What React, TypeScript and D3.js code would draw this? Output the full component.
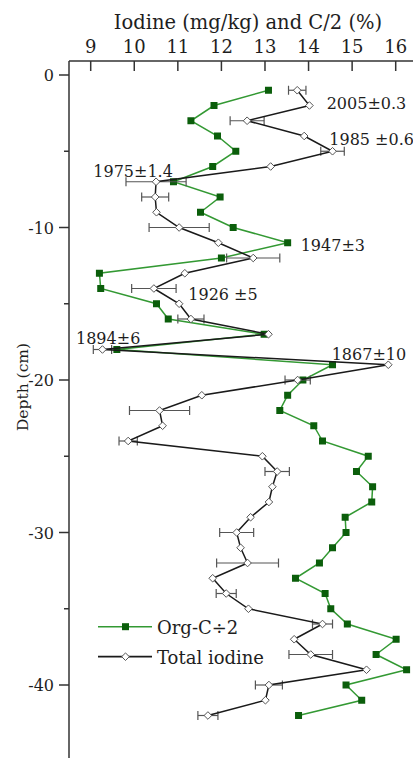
import React from "react";
import * as d3 from "d3";

const depths = d3.range(1, 43).map((d) => -d);
const orgC = [13.08, 11.83, 11.3, 11.91, 12.33, 11.8, 10.9, 11.97, 11.52, 12.27,
  13.52, 12.0, 9.2, 9.23, 10.51, 10.78, 12.98, 9.6, 14.55, 13.87,
  13.52, 13.34, 14.12, 14.32, 15.37, 15.1, 15.47, 15.45, 14.84, 14.86,
  14.55, 14.25, 13.7, 14.38, 14.51, 14.89, 16.01, 15.55, 16.25, 14.86,
  15.22, 13.77];
const iodine = [13.74, 14.02, 12.59, 13.9, 14.55, 13.13, 10.5, 10.48, 10.51, 11.03,
  11.93, 12.73, 11.16, 10.45, 11.03, 11.3, 13.08, 9.27, 15.83, 13.75,
  11.55, 10.58, 10.65, 9.86, 12.94, 13.28, 13.17, 13.09, 12.67, 12.35,
  12.44, 12.6, 11.8, 12.11, 12.62, 14.32, 13.67, 14.05, 15.33, 13.09,
  13.01, 11.69];
// error (± mg/kg), 0 = no bar
const iodineErr = [0.2, 0, 0.39, 0, 0.27, 0, 0.69, 0.31, 0, 0.69,
  0, 0.61, 0, 0.51, 0, 0.3, 0, 0.21, 0, 0.29,
  0, 0.69, 0, 0.21, 0, 0.28, 0, 0, 0, 0.39,
  0, 0.71, 0, 0.23, 0, 0.23, 0, 0.5, 0, 0.31,
  0, 0.23];
const xTicks = [9, 10, 11, 12, 13, 14, 15, 16];
const yTicks = [0, -10, -20, -30, -40];
const yMinor = [-5, -15, -25, -35, -45];
const dateLabels = ["2005±0.3", "1985 ±0.6", "1975±1.4", "1947±3", "1926 ±5", "1894±6", "1867±10"];
const dateX = [326.7, 329.3, 93.3, 300.7, 188.3, 76, 331.7];
const dateY = [109, 145, 176.7, 250.7, 300, 344.3, 360];

const W = 413;
const H = 758;
const FONT = "'DejaVu Serif', serif";

export default function App() {
  const x = d3.scaleLinear().domain([9, 16]).range([90.7, 395.7]);
  const y = d3.scaleLinear().domain([0, -45]).range([75, 761.25]);
  const axX = 69;
  const axY = 61;
  const line = d3.line<number>().x((v) => x(v)).y((_, i) => y(depths[i]));
  const diamond = (cx: number, cy: number, r: number) =>
    `M${cx},${cy - r}L${cx + r},${cy}L${cx},${cy + r}L${cx - r},${cy}Z`;
  const txt = "#1e1e1e";

  return (
    <svg width={W} height={H} style={{ position: "absolute", left: 0, top: 0, background: "#fff" }} fontFamily={FONT}>
      <rect width={W} height={H} fill="#fff" />
      {/* title */}
      <text x={248} y={29} textAnchor="middle" fontSize={19.5} fill={txt}>Iodine (mg/kg) and C/2 (%)</text>
      {/* top axis */}
      <line x1={axX} x2={W} y1={axY} y2={axY} stroke="#333" strokeWidth={1.5} />
      {xTicks.map((t) => (
        <g key={t}>
          <line x1={x(t)} x2={x(t)} y1={axY} y2={axY + 10} stroke="#333" strokeWidth={1.5} />
          <text x={x(t)} y={53} textAnchor="middle" fontSize={18} fill={txt}>{t}</text>
        </g>
      ))}
      {/* left axis */}
      <line x1={axX} x2={axX} y1={axY} y2={H} stroke="#333" strokeWidth={1.5} />
      {yTicks.map((t) => (
        <g key={t}>
          <line x1={axX - 10} x2={axX} y1={y(t)} y2={y(t)} stroke="#333" strokeWidth={1.5} />
          <text x={54} y={y(t) + 6} textAnchor="end" fontSize={16} fill={txt}>{t}</text>
        </g>
      ))}
      {yMinor.map((t) => (
        <line key={t} x1={axX - 5} x2={axX} y1={y(t)} y2={y(t)} stroke="#333" strokeWidth={1.5} />
      ))}
      <text transform={`translate(28,387) rotate(-90)`} textAnchor="middle" fontSize={15.5} fill={txt}>Depth (cm)</text>

      {/* Org-C series */}
      <path d={line(orgC) || ""} fill="none" stroke="#339933" strokeWidth={1.5} />
      {orgC.map((v, i) => (
        <rect key={i} x={x(v) - 3.5} y={y(depths[i]) - 3.5} width={7} height={7} fill="#0b5e0b" />
      ))}

      {/* iodine error bars */}
      {iodine.map((v, i) =>
        iodineErr[i] > 0 ? (
          <g key={i} stroke="#555" strokeWidth={1.2}>
            <line x1={x(v - iodineErr[i])} x2={x(v + iodineErr[i])} y1={y(depths[i])} y2={y(depths[i])} />
            <line x1={x(v - iodineErr[i])} x2={x(v - iodineErr[i])} y1={y(depths[i]) - 4.5} y2={y(depths[i]) + 4.5} />
            <line x1={x(v + iodineErr[i])} x2={x(v + iodineErr[i])} y1={y(depths[i]) - 4.5} y2={y(depths[i]) + 4.5} />
          </g>
        ) : null
      )}
      {/* iodine series */}
      <path d={line(iodine) || ""} fill="none" stroke="#1a1a1a" strokeWidth={1.5} />
      {iodine.map((v, i) => (
        <path key={i} d={diamond(x(v), y(depths[i]), 3.8)} fill="#fff" stroke="#555" strokeWidth={1} />
      ))}

      {/* date annotations */}
      {dateLabels.map((s, i) => (
        <text key={s} x={dateX[i]} y={dateY[i]} fontSize={16} fill={txt}>{s}</text>
      ))}

      {/* legend */}
      <line x1={98} x2={152} y1={626.7} y2={626.7} stroke="#339933" strokeWidth={1.5} />
      <rect x={122} y={623.2} width={7} height={7} fill="#0b5e0b" />
      <text x={157} y={633.5} fontSize={18} fill={txt}>Org-C÷2</text>
      <line x1={98} x2={152} y1={656.7} y2={656.7} stroke="#1a1a1a" strokeWidth={1.8} />
      <path d={diamond(125.5, 656.7, 3.8)} fill="#fff" stroke="#555" strokeWidth={1} />
      <text x={157} y={663.5} fontSize={18} fill={txt}>Total iodine</text>
    </svg>
  );
}
